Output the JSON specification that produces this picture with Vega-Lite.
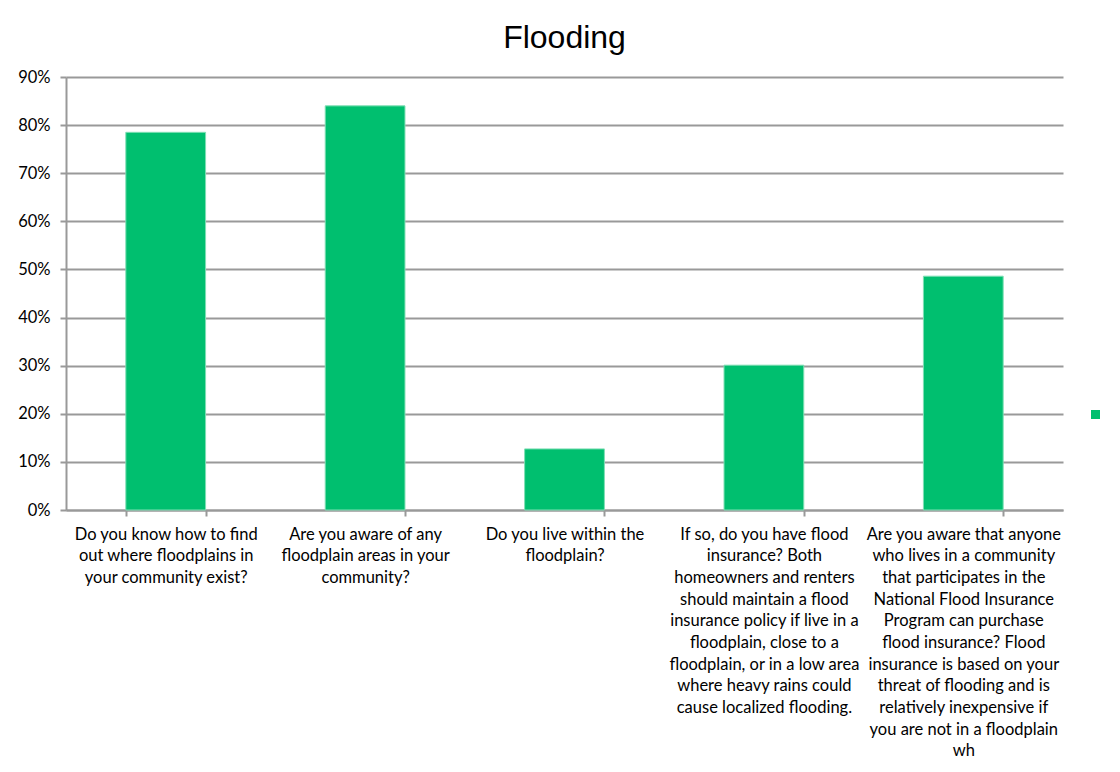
{
  "$schema": "https://vega.github.io/schema/vega-lite/v6.json",
  "width": 997,
  "height": 433,
  "autosize": {"type": "none"},
  "padding": {"left": 66, "top": 77, "right": 57, "bottom": 262},
  "background": "white",
  "title": {"text": "Flooding", "font": "Liberation Sans", "fontSize": 32, "fontWeight": "normal", "color": "#000000", "anchor": "middle", "offset": 14},
  "data": {"values": [
    {"question": "Do you know how to find|out where floodplains in|your community exist?", "series": "", "pct": 0.785},
    {"question": "Are you aware of any|floodplain areas in your|community?", "series": "", "pct": 0.840},
    {"question": "Do you live within the|floodplain?", "series": "", "pct": 0.127},
    {"question": "If so, do you have flood|insurance? Both|homeowners and renters|should maintain a flood|insurance policy if live in a|floodplain, close to a|floodplain, or in a low area|where heavy rains could|cause localized flooding.", "series": "", "pct": 0.301},
    {"question": "Are you aware that anyone|who lives in a community|that participates in the|National Flood Insurance|Program can purchase|flood insurance?  Flood|insurance is based on your|threat of flooding and is|relatively inexpensive if|you are not in a floodplain|wh", "series": "", "pct": 0.486}
  ]},
  "mark": {"type": "bar", "stroke": "#7fdfb5", "strokeWidth": 1},
  "encoding": {
    "x": {
      "field": "question", "type": "nominal", "sort": null,
      "scale": {"paddingInner": 0.6, "paddingOuter": 0.3},
      "axis": {
        "title": null, "labelAngle": 0, "labelAlign": "center", "labelBaseline": "top",
        "labelExpr": "split(datum.label, '|')",
        "labelFont": "Lato", "labelFontSize": 16.5, "labelColor": "#000000", "labelLineHeight": 21.7,
        "labelPadding": 10, "labelLimit": 0,
        "tickBand": "extent", "tickSize": 6, "tickColor": "#999999", "tickWidth": 2,
        "domainColor": "#999999", "domainWidth": 2, "grid": false
      }
    },
    "y": {
      "field": "pct", "type": "quantitative",
      "scale": {"domain": [0, 0.9], "nice": false},
      "axis": {
        "title": null, "format": ".0%", "values": [0, 0.1, 0.2, 0.3, 0.4, 0.5, 0.6, 0.7, 0.8, 0.9],
        "labelFont": "Lato", "labelFontSize": 16.5, "labelColor": "#000000", "labelPadding": 10,
        "tickSize": 6, "tickColor": "#999999", "tickWidth": 2,
        "domainColor": "#999999", "domainWidth": 2,
        "grid": true, "gridColor": "#999999", "gridWidth": 2
      }
    },
    "color": {
      "field": "series", "type": "nominal",
      "scale": {"range": ["#00bf6f"]},
      "legend": {"title": null, "orient": "none", "legendX": 1025, "legendY": 333, "symbolType": "square", "symbolSize": 81, "symbolStrokeWidth": 0, "labelFontSize": 1, "padding": 0}
    }
  },
  "config": {"view": {"stroke": null}}
}
